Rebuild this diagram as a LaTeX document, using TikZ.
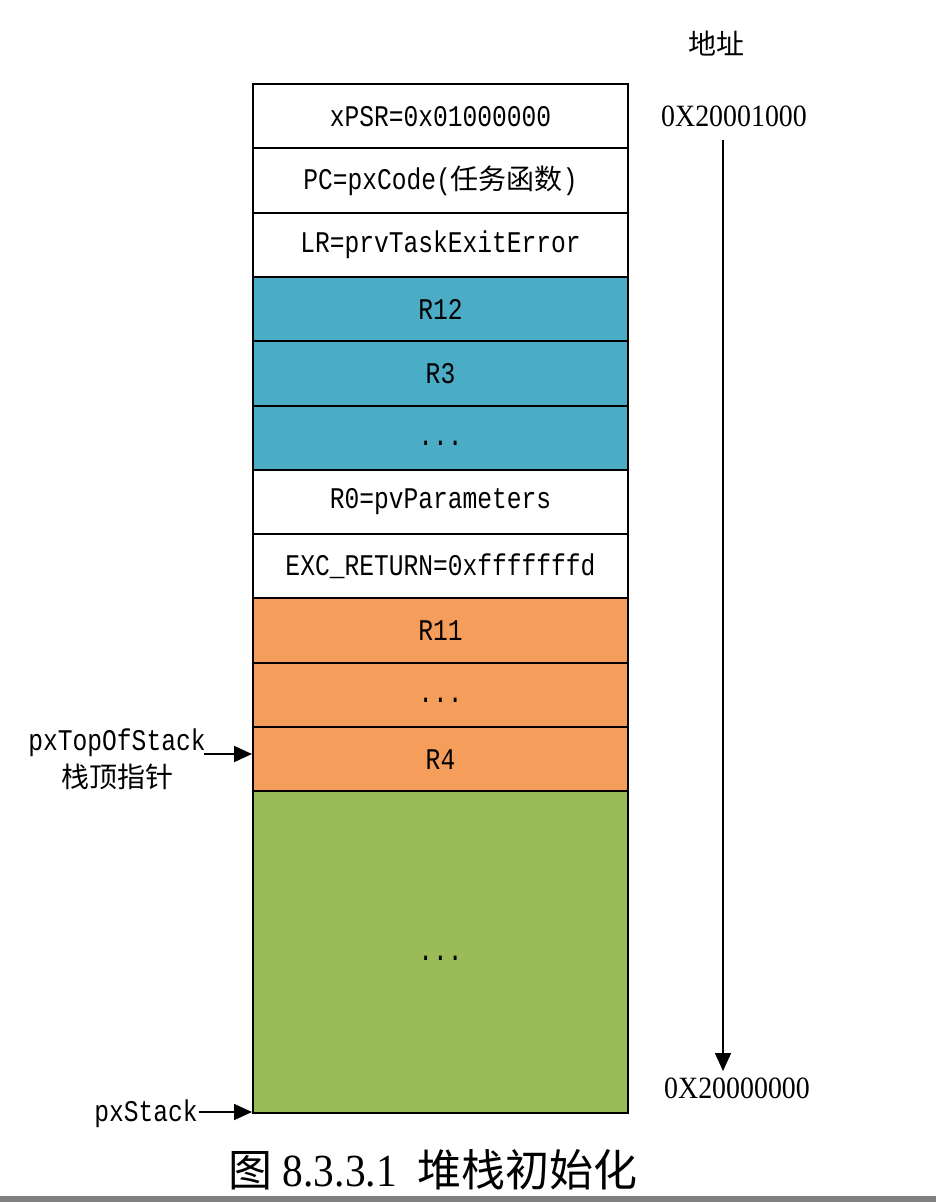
\documentclass[tikz,border=0pt]{standalone}
\usepackage{fontspec}
\setmainfont{Liberation Serif}
\newfontfamily\monof[FakeStretch=0.82]{Liberation Mono}
\newfontfamily\addrf[FakeStretch=0.9]{Liberation Serif}
\newfontfamily\cjkf{Noto Sans CJK SC}
\usetikzlibrary{arrows.meta}
\definecolor{cblue}{HTML}{4BACC6}
\definecolor{corange}{HTML}{F59E5B}
\definecolor{cgreen}{HTML}{9BBB59}
\definecolor{cbar}{HTML}{808080}
\newcommand{\mt}{\monof\fontsize{30}{34}\selectfont}
\newcommand{\ct}{\cjkf\fontsize{28}{32}\selectfont}
\newcommand{\dotsx}{\raisebox{-8pt}[0pt][0pt]{...}}
\tikzset{
  cell/.style={draw=black, line width=2pt, minimum width=375pt, minimum height=64.3pt, inner sep=0pt, font=\mt},
  arr/.style={line width=1.8pt, -{Triangle[length=18pt,width=16pt]}},
  lbl/.style={inner sep=0pt, font=\mt},
  addr/.style={inner sep=0pt, font=\addrf\fontsize{31}{34}\selectfont},
}
\begin{document}
\begin{tikzpicture}[x=1pt,y=-1pt]
\useasboundingbox (0,0) rectangle (936,1202);
\fill[cbar] (0,1196) rectangle (936,1202);
% stack cells
\node[cell] (r1) at (440.5,116.2) {xPSR=0x01000000};
\node[cell] (r2) at (440.5,180.5) {PC=pxCode({\ct 任务函数})};
\node[cell] (r3) at (440.5,244.8) {LR=prvTaskExitError};
\node[cell, fill=cblue] (r4) at (440.5,309.1) {R12};
\node[cell, fill=cblue] (r5) at (440.5,373.4) {R3};
\node[cell, fill=cblue] (r6) at (440.5,437.7) {\dotsx};
\node[cell] (r7) at (440.5,502.0) {R0=pvParameters};
\node[cell] (r8) at (440.5,566.3) {EXC\_RETURN=0xfffffffd};
\node[cell, fill=corange] (r9) at (440.5,630.6) {R11};
\node[cell, fill=corange] (r10) at (440.5,694.9) {\dotsx};
\node[cell, fill=corange] (r11) at (440.5,759.2) {R4};
\node[cell, fill=cgreen, minimum height=322pt] (r12) at (440.5,952.3) {\dotsx};
% address column
\node[inner sep=0pt, font=\ct] (addrt) at (716,44) {地址};
\node[addr] (a1) at (734,116) {0X20001000};
\node[addr] (a2) at (737,1088) {0X20000000};
\coordinate (atop) at (723,140);
\coordinate (abot) at (723,1071);
\draw[arr] (atop) -- (abot);
% pointers
\node[lbl] (tos) at (117,743) {pxTopOfStack};
\node[inner sep=0pt, font=\ct] (tosc) at (117,777) {栈顶指针};
\coordinate (tosa) at (204,754);
\draw[arr] (tosa) -- (tosa -| r11.west);
\node[lbl] (pxs) at (146,1114) {pxStack};
\coordinate (pxsa) at (199,1112);
\draw[arr] (pxsa) -- (pxsa -| r12.west);
% caption
\node[inner sep=0pt] (cap) at (433,1170) {{\cjkf\fontsize{44}{46}\selectfont 图}{\addrf\fontsize{46}{48}\selectfont\ 8.3.3.1\ \ }{\cjkf\fontsize{44}{46}\selectfont 堆栈初始化}};
\end{tikzpicture}
\end{document}
